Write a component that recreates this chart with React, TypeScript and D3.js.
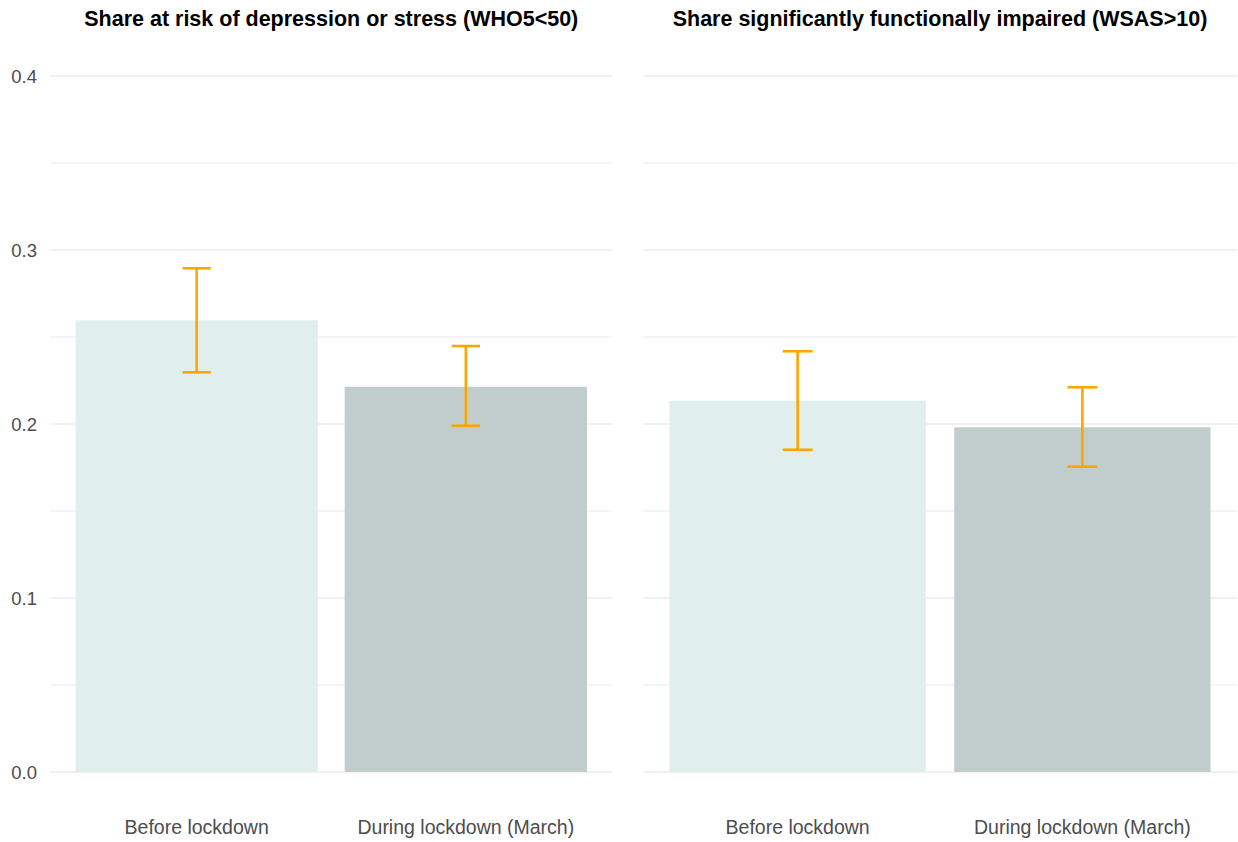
import React from "react";
import * as d3 from "d3";

const categories = ["Before lockdown", "During lockdown (March)"];
const panelTitles = [
  "Share at risk of depression or stress (WHO5<50)",
  "Share significantly functionally impaired (WSAS>10)",
];
const who5Values = [0.2596, 0.2214];
const who5Lower = [0.2297, 0.199];
const who5Upper = [0.2895, 0.2448];
const wsasValues = [0.2134, 0.1981];
const wsasLower = [0.1852, 0.1755];
const wsasUpper = [0.2418, 0.2211];
const yTicks = [0, 0.1, 0.2, 0.3, 0.4];
const yMinorTicks = [0.05, 0.15, 0.25, 0.35];
const barColors = ["#E0EEEE", "#C1CDCD"];

const W = 1238;
const H = 842;
const FONT = "'Liberation Sans', Arial, sans-serif";

const panels = [
  { title: panelTitles[0], values: who5Values, lower: who5Lower, upper: who5Upper, x0: 50.5, x1: 612, showY: true },
  { title: panelTitles[1], values: wsasValues, lower: wsasLower, upper: wsasUpper, x0: 643, x1: 1237, showY: false },
];

export default function App() {
  const y = d3.scaleLinear().domain([0, 0.4]).range([772, 76]);
  return (
    <svg width={W} height={H} style={{ position: "absolute", left: 0, top: 0, background: "#fff" }} fontFamily={FONT}>
      {panels.map((p, pi) => {
        const x = d3
          .scaleBand<string>()
          .domain(categories)
          .range([p.x0, p.x1])
          .paddingInner(0.1)
          .paddingOuter(0.093);
        const step = x.step();
        const capW = step * 0.105;
        return (
          <g key={pi}>
            {yMinorTicks.map((t) => (
              <line key={"m" + t} x1={p.x0} x2={p.x1} y1={y(t)} y2={y(t)} stroke="#ebebeb" strokeWidth={1.2} />
            ))}
            {yTicks.map((t) => (
              <line key={"M" + t} x1={p.x0} x2={p.x1} y1={y(t)} y2={y(t)} stroke="#ebebeb" strokeWidth={1.6} />
            ))}
            {p.showY &&
              yTicks.map((t) => (
                <text key={"t" + t} x={37} y={y(t)} dy="0.36em" textAnchor="end" fontSize={18.5} fill="#4d4d4d">
                  {d3.format(".1f")(t)}
                </text>
              ))}
            {categories.map((c, i) => (
              <rect
                key={c}
                x={x(c)!}
                width={x.bandwidth()}
                y={y(p.values[i])}
                height={y(0) - y(p.values[i])}
                fill={barColors[i]}
              />
            ))}
            {categories.map((c, i) => {
              const cx = x(c)! + x.bandwidth() / 2;
              return (
                <g key={"e" + c} stroke="#FFA500" strokeWidth={2.6} fill="none">
                  <line x1={cx} x2={cx} y1={y(p.upper[i])} y2={y(p.lower[i])} />
                  <line x1={cx - capW / 2} x2={cx + capW / 2} y1={y(p.upper[i])} y2={y(p.upper[i])} />
                  <line x1={cx - capW / 2} x2={cx + capW / 2} y1={y(p.lower[i])} y2={y(p.lower[i])} />
                </g>
              );
            })}
            {categories.map((c) => (
              <text
                key={"x" + c}
                x={x(c)! + x.bandwidth() / 2}
                y={834}
                textAnchor="middle"
                fontSize={19.5}
                fill="#4d4d4d"
              >
                {c}
              </text>
            ))}
            <text x={(p.x0 + p.x1) / 2} y={25.5} textAnchor="middle" fontSize={21.5} fontWeight="bold" fill="#000">
              {p.title}
            </text>
          </g>
        );
      })}
    </svg>
  );
}
